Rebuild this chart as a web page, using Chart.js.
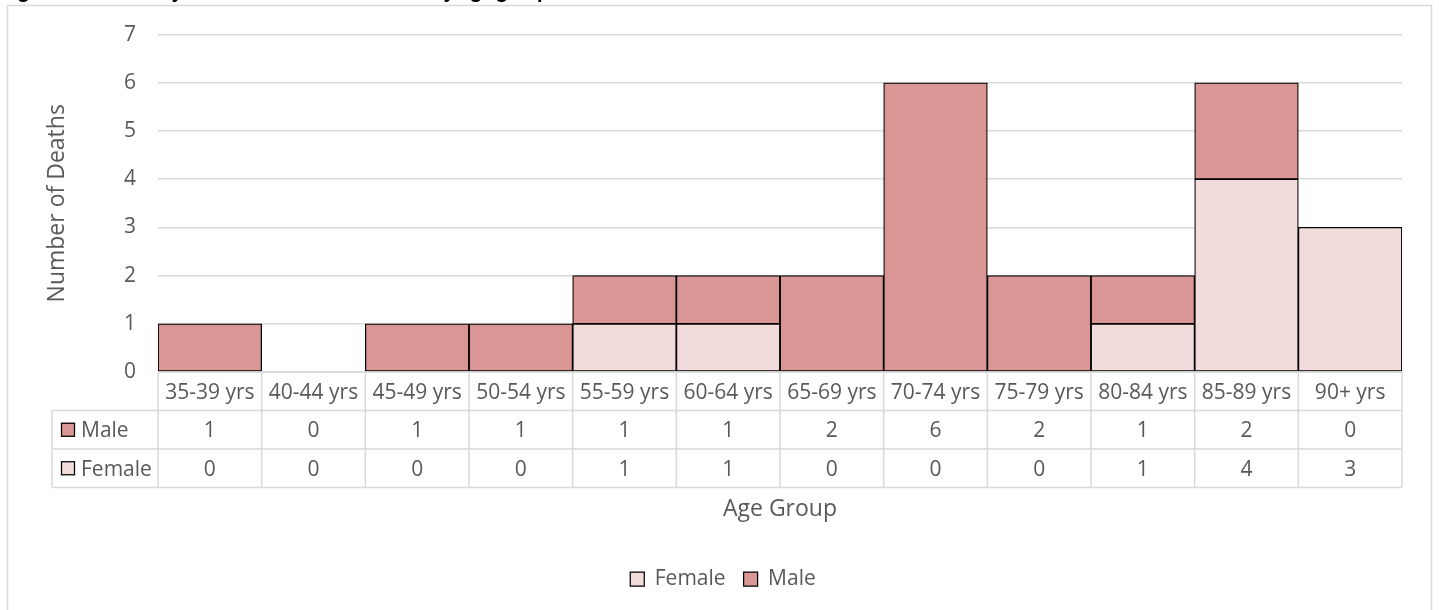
<!DOCTYPE html>
<html><head><meta charset="utf-8">
<script src="https://cdn.jsdelivr.net/npm/chart.js@4.4.1/dist/chart.umd.min.js"></script>
<style>
html,body{margin:0;padding:0;background:#fff;overflow:hidden;}
#wrap{position:relative;width:1439px;height:610px;overflow:hidden;}
#title{position:absolute;left:4px;top:-20px;font:italic bold 19px "Open Sans";line-height:20px;color:#000;white-space:nowrap;}
canvas{position:absolute;left:0;top:0;}
</style></head><body>
<div id="wrap"><canvas id="c" width="1439" height="610"></canvas><div id="title">Figure 4: Number of deaths related to COVID-19 by age group and sex</div></div>
<script>
const categories = ['35-39 yrs','40-44 yrs','45-49 yrs','50-54 yrs','55-59 yrs','60-64 yrs','65-69 yrs','70-74 yrs','75-79 yrs','80-84 yrs','85-89 yrs','90+ yrs'];
const maleValues   = [1,0,1,1,1,1,2,6,2,1,2,0];
const femaleValues = [0,0,0,0,1,1,0,0,0,1,4,3];
const yTickMin = 0, yTickMax = 7, yTickStep = 1;
const seriesNames = ['Female','Male'];
const xTitle = 'Age Group';
const yTitle = 'Number of Deaths';

const maleColor = '#D99694';
const femaleColor = '#F2DCDB';
const textColor = '#595959';
const gridColor = '#d9d9d9';

const tablePlugin = {
  id: 'dataTable',
  beforeDraw(chart) {
    const ctx = chart.ctx;
    ctx.save();
    ctx.strokeStyle = gridColor; ctx.lineWidth = 1.5;
    ctx.strokeRect(7.5, 5.5, 1424, 700);
    ctx.restore();
  },
  afterDraw(chart) {
    const {ctx, chartArea: a, scales: {x}} = chart;
    const half = (x.getPixelForValue(1) - x.getPixelForValue(0)) / 2;
    const rowH = 38.5;
    const y0 = a.bottom, y1 = y0 + rowH, y2 = y1 + rowH, y3 = y2 + rowH;
    const legendLeft = 52;
    ctx.save();
    ctx.strokeStyle = gridColor; ctx.lineWidth = 1.5;
    ctx.beginPath();
    ctx.moveTo(a.left, y0); ctx.lineTo(a.right, y0);
    [y1, y2, y3].forEach(y => { ctx.moveTo(legendLeft, y); ctx.lineTo(a.right, y); });
    categories.forEach((c, i) => {
      const bx = x.getPixelForValue(i) - half;
      ctx.moveTo(bx, y0); ctx.lineTo(bx, y3);
    });
    ctx.moveTo(a.right, y0); ctx.lineTo(a.right, y3);
    ctx.moveTo(legendLeft, y1); ctx.lineTo(legendLeft, y3);
    ctx.stroke();

    ctx.fillStyle = textColor;
    ctx.font = '21px "Open Sans"';
    ctx.textAlign = 'center';
    ctx.textBaseline = 'alphabetic';
    categories.forEach((c, i) => {
      const cx = x.getPixelForValue(i);
      ctx.fillText(c, cx, (y0 + y1) / 2 + 8);
      ctx.fillText(String(maleValues[i]), cx, (y1 + y2) / 2 + 7.5);
      ctx.fillText(String(femaleValues[i]), cx, (y2 + y3) / 2 + 7.5);
    });
    const rows = [
      {label: 'Male', color: maleColor, cy: (y1 + y2) / 2},
      {label: 'Female', color: femaleColor, cy: (y2 + y3) / 2}
    ];
    rows.forEach(r => {
      ctx.fillStyle = r.color;
      ctx.fillRect(61, r.cy - 7, 14, 14);
      ctx.strokeStyle = '#000'; ctx.lineWidth = 1.25;
      ctx.strokeRect(61.5, r.cy - 6.5, 13, 13);
      ctx.fillStyle = textColor;
      ctx.textAlign = 'left';
      ctx.fillText(r.label, 81, r.cy + 7.5);
    });
    ctx.font = '23px "Open Sans"';
    ctx.textAlign = 'center';
    ctx.fillText(xTitle, (a.left + a.right) / 2, 516);
    ctx.restore();
  }
};

new Chart(document.getElementById('c'), {
  type: 'bar',
  data: {
    labels: categories,
    datasets: [
      {label: seriesNames[0], data: femaleValues, backgroundColor: femaleColor, borderColor: '#000', borderWidth: 1.25, borderSkipped: false},
      {label: seriesNames[1], data: maleValues, backgroundColor: maleColor, borderColor: '#000', borderWidth: 1.25, borderSkipped: false}
    ]
  },
  options: {
    responsive: false,
    animation: false,
    devicePixelRatio: 1,
    layout: {padding: {left: 44, right: 37, top: 34, bottom: 10.5}},
    datasets: {bar: {categoryPercentage: 1, barPercentage: 1}},
    plugins: {
      tooltip: {enabled: false},
      title: {display: false},
      legend: {
        position: 'bottom',
        labels: {font: {family: 'Open Sans', size: 21}, color: textColor, boxWidth: 14, boxHeight: 14, padding: 18}
      }
    },
    scales: {
      x: {
        stacked: true,
        ticks: {display: false},
        grid: {display: false},
        border: {display: false},
        afterFit(scale) { scale.height = 178.5; }
      },
      y: {
        stacked: true,
        min: yTickMin, max: yTickMax,
        ticks: {stepSize: yTickStep, padding: 22, color: textColor, font: {family: 'Open Sans', size: 21}},
        grid: {color: gridColor, lineWidth: 1.5, drawTicks: false},
        border: {display: false},
        title: {display: true, text: yTitle, color: textColor, font: {family: 'Open Sans', size: 23}, padding: 0},
        afterFit(scale) { scale.width = 114; }
      }
    }
  },
  plugins: [tablePlugin]
});
</script>
</body></html>
